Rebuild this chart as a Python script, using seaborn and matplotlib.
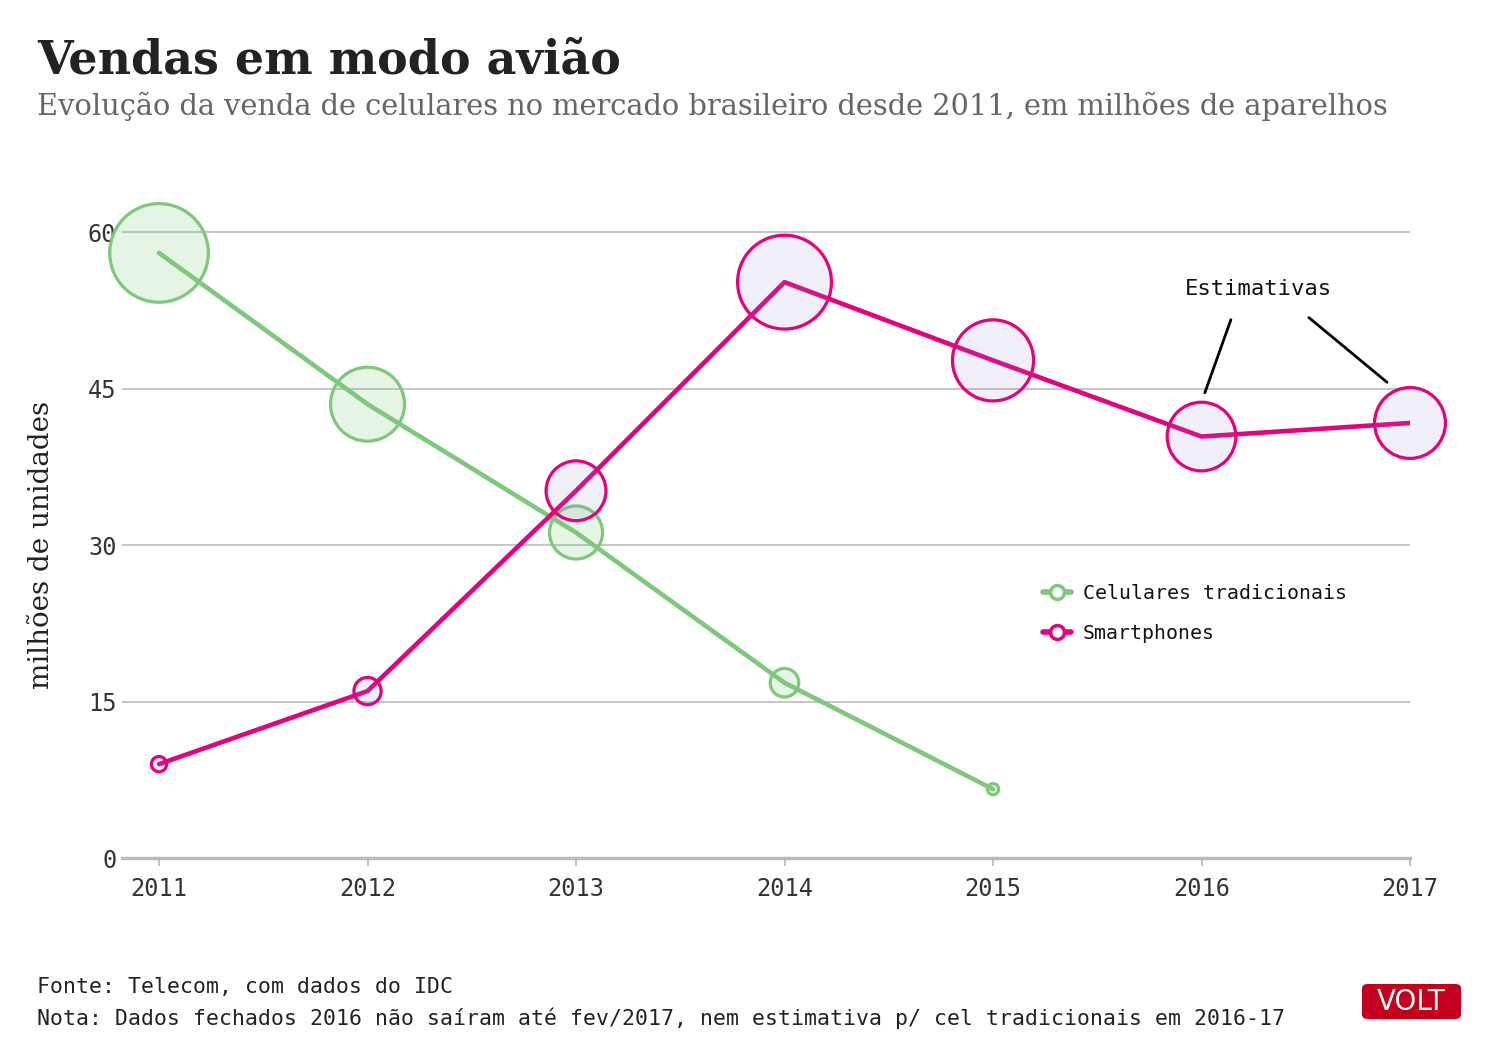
import numpy as np
import pandas as pd
import matplotlib
matplotlib.use("Agg")
import matplotlib.pyplot as plt
from matplotlib.lines import Line2D
from matplotlib.patches import FancyBboxPatch
from matplotlib.colors import to_rgba
import seaborn as sns

# ---- data ----
years_cel = [2011, 2012, 2013, 2014, 2015]
cel_values = [58.0, 43.5, 31.2, 16.8, 6.6]
years_smart = [2011, 2012, 2013, 2014, 2015, 2016, 2017]
smart_values = [9.0, 16.0, 35.2, 55.2, 47.7, 40.4, 41.7]
series_names = ["Celulares tradicionais", "Smartphones"]
x_ticks = [2011, 2012, 2013, 2014, 2015, 2016, 2017]
y_ticks = [0, 15, 30, 45, 60]

title = "Vendas em modo avião"
subtitle = "Evolução da venda de celulares no mercado brasileiro desde 2011, em milhões de aparelhos"
ylabel = "milhões de unidades"
note_lines = ["Fonte: Telecom, com dados do IDC",
              "Nota: Dados fechados 2016 não saíram até fev/2017, nem estimativa p/ cel tradicionais em 2016-17"]

GREEN = "#7dc87a"
PINK = "#e6007e"

df = pd.concat([
    pd.DataFrame({"year": years_cel, "value": cel_values, "series": series_names[0]}),
    pd.DataFrame({"year": years_smart, "value": smart_values, "series": series_names[1]}),
], ignore_index=True)

sns.set_theme(style="white")
plt.rcParams["font.family"] = ["DejaVu Sans"]

fig = plt.figure(figsize=(14.9, 10.4), dpi=100)
ax = fig.add_axes([122 / 1490, 182 / 1040, (1410 - 122) / 1490, (858 - 211.2) / 1040])

PX_PER_UNIT_R = 0.85  # circle radius in px per million units

styles = {
    series_names[0]: dict(color=GREEN, face=GREEN, alpha=0.2),
    series_names[1]: dict(color=PINK, face="#8e7cc3", alpha=0.13),
}

z = 3
for name in series_names:
    sub = df[df["series"] == name]
    st = styles[name]
    sns.lineplot(data=sub, x="year", y="value", color=st["color"], lw=3.3,
                 ax=ax, zorder=z, legend=False)
    r_pt = sub["value"].to_numpy() * PX_PER_UNIT_R * 72 / 100
    sizes = (2 * r_pt) ** 2
    sns.scatterplot(data=sub, x="year", y="value", s=sizes,
                    facecolor=to_rgba(st["face"], st["alpha"]),
                    edgecolor=st["color"], linewidth=2.3, ax=ax,
                    zorder=z + 1, legend=False, clip_on=False)
    z += 2

ax.set_xlim(2011 - (159 - 122) / 208.33, 2017)
ax.set_ylim(0, 62)
ax.set_xticks(x_ticks)
ax.set_yticks(y_ticks)
ax.set_xticklabels([str(x) for x in x_ticks])
ax.set_xlabel("")
ax.set_ylabel("")

for s in ["top", "right", "left"]:
    ax.spines[s].set_visible(False)
ax.spines["bottom"].set_color("#bbbbbb")
ax.spines["bottom"].set_linewidth(2.5)
ax.spines["bottom"].set_zorder(1)

for yv in y_ticks[1:]:
    ax.axhline(yv, color="#bbbbbb", lw=1.2, zorder=0)

ax.tick_params(axis="x", length=6, width=1.3, color="#bbbbbb", pad=8,
               labelsize=17, labelcolor="#333333", bottom=True)
ax.tick_params(axis="y", length=0, pad=4, labelsize=17, labelcolor="#333333")
for lab in ax.get_xticklabels() + ax.get_yticklabels():
    lab.set_family("DejaVu Sans Mono")

# annotation
ax.text(2016.275, 54.5, "Estimativas", ha="center", va="center",
        fontsize=16, family="DejaVu Sans Mono", color="#111111")
ax.annotate("", xy=(2016.016, 44.6), xytext=(2016.141, 51.6),
            arrowprops=dict(arrowstyle="-", color="black", lw=2, shrinkA=0, shrinkB=0))
ax.annotate("", xy=(2016.89, 45.6), xytext=(2016.515, 51.8),
            arrowprops=dict(arrowstyle="-", color="black", lw=2, shrinkA=0, shrinkB=0))

# legend
handles = [
    Line2D([], [], color=GREEN, lw=4, marker="o", ms=10, mfc="white", mew=2.5),
    Line2D([], [], color=PINK, lw=4, marker="o", ms=10, mfc="white", mew=2.5),
]
leg = fig.legend(handles, series_names, loc="upper left",
                 bbox_to_anchor=(1043 / 1490, 1 - 584 / 1040),
                 frameon=False, borderpad=0, borderaxespad=0, handlelength=1.4,
                 handletextpad=0.6, labelspacing=1.07,
                 prop={"family": "DejaVu Sans Mono", "size": 14.3})
for t in leg.get_texts():
    t.set_color("#111111")

# titles
fig.text(37 / 1490, 1 - 73 / 1040, title, fontsize=33, fontweight="bold",
         family="DejaVu Serif", color="#222222", va="baseline")
fig.text(37 / 1490, 1 - 115 / 1040, subtitle, fontsize=20.75,
         family="DejaVu Serif", color="#666666", va="baseline")
fig.text(42 / 1490, 1 - 545 / 1040, ylabel, rotation=90, fontsize=20,
         family="DejaVu Serif", color="#222222", ha="center", va="center")

# footer
fig.text(37 / 1490, 1 - 987 / 1040, note_lines[0], fontsize=15.5,
         family="DejaVu Sans Mono", color="#222222", va="center")
fig.text(37 / 1490, 1 - 1018 / 1040, note_lines[1], fontsize=15.5,
         family="DejaVu Sans Mono", color="#222222", va="center")

# logo
logo = FancyBboxPatch((1362 / 1490, 1 - 1019 / 1040), 99 / 1490, 35 / 1040,
                      boxstyle="round,pad=0,rounding_size=0.004",
                      transform=fig.transFigure, fc="#c4001c", ec="none")
fig.patches.append(logo)
fig.text(1411.5 / 1490, 1 - 1001.5 / 1040, "VOLT", fontsize=20,
         color="white", ha="center", va="center", family="DejaVu Sans")

fig.savefig("out.png", dpi=100)
